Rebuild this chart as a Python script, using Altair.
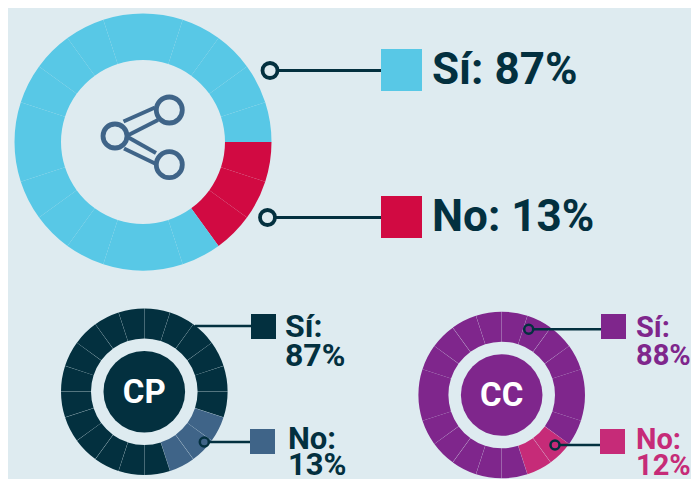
import math
import altair as alt
import pandas as pd

# ---- values ----
BIG_EDGES = [0, 1, 2, 3, 4, 5, 6, 7, 8, 9, 11, 12, 13, 14, 15, 16, 17, 18, 19, 20]
BIG_NO = [5, 6, 7]
CP_EDGES = list(range(21))
CP_NO = [6, 7, 8]
CC_EDGES = list(range(21))
CC_NO = [7, 8]
ANSWER_KEYS = ["big_si", "big_no", "cp_si", "cp_no", "cc_si", "cc_no"]

BG = "#deebf0"
DARK = "#03303f"
STEEL = "#3f6488"
SKY = "#58c8e6"
RED = "#d10a42"
PURPLE = "#7f268c"
MAGENTA = "#c62b78"
FONT = "Roboto"
ANSWER_COLORS = [SKY, RED, DARK, STEEL, PURPLE, MAGENTA]


def px(v):
    return alt.value(v - 8)


def donut_rows(name, edges, no):
    rows = []
    for a, b in zip(edges[:-1], edges[1:]):
        rows.append({"start": a, "end": b, "key": name + ("_no" if a in no else "_si")})
    return pd.DataFrame(rows)


def donut(name, edges, no, cx, cy, r1, r0, pad):
    mark = alt.Chart(donut_rows(name, edges, no)).mark_arc(radius=r1, radius2=r0, padAngle=pad)
    return mark.encode(
        x=px(cx),
        y=px(cy),
        theta=alt.Theta("start:Q", stack=None,
                        scale=alt.Scale(domain=[0, 20], range=[0, 2 * math.pi])),
        theta2="end:Q",
        color=alt.Color("key:N", legend=None,
                        scale=alt.Scale(domain=ANSWER_KEYS, range=ANSWER_COLORS)),
    )


ONE = pd.DataFrame({"o": [0]})


def line(x1, y1, x2, y2, color=DARK, w=3):
    return alt.Chart(ONE).mark_rule(color=color, strokeWidth=w).encode(
        x=px(x1), y=px(y1), x2=px(x2), y2=px(y2))


def square(x1, y1, x2, y2, color):
    return alt.Chart(ONE).mark_rect(color=color).encode(
        x=px(x1), y=px(y1), x2=px(x2), y2=px(y2))


def ring(cx, cy, r, w, color, fill):
    return alt.Chart(ONE).mark_point(
        shape="circle", size=4 * r * r, filled=False, fill=fill, fillOpacity=1,
        stroke=color, strokeWidth=w, opacity=1
    ).encode(x=px(cx), y=px(cy))


def disc(cx, cy, r, color):
    return alt.Chart(ONE).mark_arc(radius=r, radius2=0, theta=0, theta2=2 * math.pi, color=color).encode(
        x=px(cx), y=px(cy))


def label(text, x, y, size, color):
    return alt.Chart(ONE).mark_text(
        text=text, font=FONT, fontWeight="bold", fontSize=size, color=color,
        align="left", baseline="alphabetic"
    ).encode(x=px(x), y=px(y))


def centered(text, x, y, size, color):
    return alt.Chart(ONE).mark_text(
        text=text, font=FONT, fontWeight="bold", fontSize=size, color=color,
        align="center", baseline="alphabetic"
    ).encode(x=px(x), y=px(y))


layers = [
    # large donut
    donut("big", BIG_EDGES, BIG_NO, 143, 142, 128.5, 82, 0),
    # share icon
    line(123.5, 121.5, 155, 107.5, STEEL, 4),
    line(128.5, 135, 158, 120, STEEL, 4),
    line(128.5, 137.5, 156, 153, STEEL, 4),
    line(124, 148.5, 155, 163.5, STEEL, 4),
    ring(115, 136, 12, 4.8, STEEL, BG),
    ring(169.3, 110, 13, 4.8, STEEL, BG),
    ring(169.3, 164.7, 13, 4.8, STEEL, BG),
    # large legend
    line(278, 70.5, 381, 70.5),
    ring(270, 70.5, 7.5, 3.8, DARK, BG),
    square(381, 49, 422, 91, SKY),
    label("Sí: 87%", 432, 84, 44, DARK),
    line(276, 217.5, 381, 217.5),
    ring(267.5, 217.5, 7.5, 3.8, DARK, BG),
    square(381, 196, 422, 238, RED),
    label("No: 13%", 432, 231, 44, DARK),
    # CP
    donut("cp", CP_EDGES, CP_NO, 144.3, 391.7, 83.3, 53.3, 0.002),
    disc(144.3, 391.7, 40.8, DARK),
    centered("CP", 144.3, 403, 33, "#ffffff"),
    line(195, 326, 251, 326, DARK, 2.5),
    square(251, 314, 276, 339, DARK),
    label("Sí:", 285, 336.5, 32, DARK),
    label("87%", 285, 365.5, 32, DARK),
    line(204, 442, 250, 442, DARK, 2.5),
    ring(204.3, 442, 4.5, 2.5, DARK, STEEL),
    square(250, 429, 275, 454, STEEL),
    label("No:", 288, 449, 31, DARK),
    label("13%", 288, 475, 31, DARK),
    # CC
    donut("cc", CC_EDGES, CC_NO, 501.7, 395, 83.3, 53.3, 0.002),
    disc(501.7, 395, 40.8, PURPLE),
    centered("CC", 501.7, 406, 33, "#ffffff"),
    line(529, 329.3, 601, 329.3, DARK, 2.5),
    ring(528.7, 329.3, 4.5, 2.5, DARK, PURPLE),
    square(601, 314, 626, 339, PURPLE),
    label("Sí:", 636, 336.5, 29, PURPLE),
    label("88%", 636, 365, 29, PURPLE),
    line(555, 445, 600, 445, DARK, 2.5),
    ring(555, 445, 4.5, 2.5, DARK, MAGENTA),
    square(600, 429, 625, 454, MAGENTA),
    label("No:", 636, 449, 29, MAGENTA),
    label("12%", 636, 475, 29, MAGENTA),
]

chart = (
    alt.layer(*layers)
    .properties(width=683, height=471, padding=0, background=BG,
                autosize=alt.AutoSizeParams(type="none"))
    .configure_view(stroke=None)
    .resolve_scale(color="shared", theta="shared")
)

chart.save("out.html", embed_options={"renderer": "svg", "actions": False})
